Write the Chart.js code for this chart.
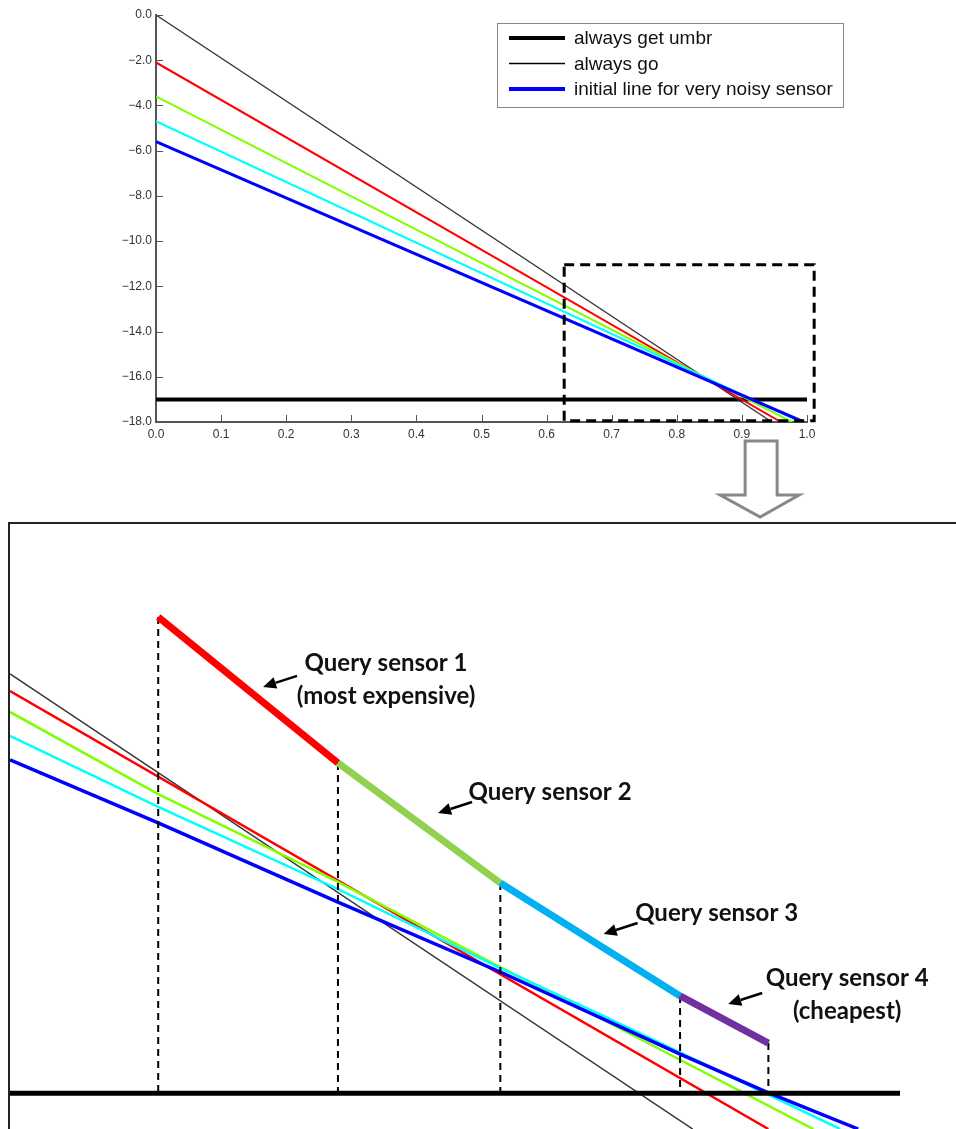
<!DOCTYPE html>
<html>
<head>
<meta charset="utf-8">
<title>Query sensor chart</title>
<script src="https://cdn.jsdelivr.net/npm/chart.js@4.4.0/dist/chart.umd.min.js"></script>
<style>
  html, body { margin: 0; padding: 0; background: #fff; }
  #wrap { position: relative; width: 956px; height: 1129px; overflow: hidden; }
  #topChart { position: absolute; left: 0; top: 0; }
  #zoomChart { position: absolute; left: 0; top: 510px; }
</style>
</head>
<body>
<div id="wrap">
  <canvas id="topChart" width="956" height="520"></canvas>
  <canvas id="zoomChart" width="956" height="619"></canvas>
</div>
<script>
// ===============================================================================================
// top chart data (p on x, expected value on y)

const xTickValues = [0, 0.1, 0.2, 0.3, 0.4, 0.5, 0.6, 0.7, 0.8, 0.9, 1.0];
const yTickValues = [0, -2, -4, -6, -8, -10, -12, -14, -16, -18];

// each line starts at p = 0 and runs down to -18
const lineStartValue = [0.0, -2.1, -3.6, -4.7, -5.6];
const lineEndP = [0.946, 0.96, 0.977, 0.99, 0.995];
const lineFloorValue = -18.0;

const umbrellaValue = -17.0;
const umbrellaP = [0.0, 1.0];

// the dashed window that gets blown up below
const windowP = [0.627, 1.011];
const windowValue = [-11.05, -17.95];

const legendLabels = ['always get umbr', 'always go', 'initial line for very noisy sensor'];

// ===============================================================================================
// zoomed-in view (same kind of units, hand-drawn schematic)

const zoomGoP = [0.84, 0.9266];
const zoomGoValue = [-15.478, -17.13];
const zoomRedP = [0.84, 0.9362];
const zoomRedValue = [-15.54, -17.13];
const zoomGreenP = [0.84, 0.8588, 0.8816, 0.9022, 0.9148, 0.9419];
const zoomGreenValue = [-15.616, -15.914, -16.233, -16.542, -16.727, -17.13];
const zoomCyanP = [0.84, 0.8588, 0.8816, 0.9022, 0.9148, 0.9453];
const zoomCyanValue = [-15.703, -15.961, -16.259, -16.546, -16.713, -17.13];
const zoomBlueP = [0.84, 0.8588, 0.8816, 0.9022, 0.925, 0.936, 0.9476];
const zoomBlueValue = [-15.79, -16.019, -16.306, -16.56, -16.858, -16.996, -17.13];
const zoomUmbrellaP = [0.84, 0.9529];

// upper envelope: which sensor to query in each stretch
const envelopeP = [0.8588, 0.8816, 0.9022, 0.925, 0.9362];
const envelopeValue = [-15.271, -15.801, -16.237, -16.647, -16.818];
const sensorLabels = [['Query sensor 1', '(most expensive)'], ['Query sensor 2'], ['Query sensor 3'], ['Query sensor 4', '(cheapest)']];
const arrowTipP = [0.8721, 0.8943, 0.9153, 0.9311];
const arrowTipValue = [-15.525, -15.983, -16.422, -16.676];

// ===============================================================================================

const lineColors = ['#333333', '#ff0000', '#80ff00', '#00ffff', '#0000ff'];
const sensorColors = ['#ff0000', '#92d050', '#00b0f0', '#7030a0'];

function pts(ps, vs) {
  return ps.map(function (p, i) { return { x: p, y: vs[i] }; });
}

function fmtTick(v) {
  const s = Math.abs(v).toFixed(1);
  return v < -1e-9 ? '\u2212' + s : s;
}

function strokeLine(ctx, x1, y1, x2, y2) {
  ctx.beginPath();
  ctx.moveTo(x1, y1);
  ctx.lineTo(x2, y2);
  ctx.stroke();
}

// ---- top chart -------------------------------------------------------------------------------

const topSets = [];

// dashed window on top of everything
topSets.push({
  data: pts([windowP[0], windowP[1], windowP[1], windowP[0], windowP[0]],
            [windowValue[0], windowValue[0], windowValue[1], windowValue[1], windowValue[0]]),
  borderColor: '#000', borderWidth: 3, borderDash: [10, 6], clip: false
});

const topWidths = [1.3, 2, 2, 2, 3];
for (let i = lineStartValue.length - 1; i >= 0; i--) {
  topSets.push({
    data: pts([0, lineEndP[i]], [lineStartValue[i], lineFloorValue]),
    borderColor: lineColors[i], borderWidth: topWidths[i]
  });
}

topSets.push({
  data: pts(umbrellaP, [umbrellaValue, umbrellaValue]),
  borderColor: '#000', borderWidth: 4
});

const topDecor = {
  id: 'topDecor',
  afterDraw: function (chart) {
    const ctx = chart.ctx;
    const a = chart.chartArea;
    const xs = chart.scales.x;
    const ys = chart.scales.y;
    ctx.save();

    // inward tick marks (matlab style)
    ctx.strokeStyle = '#555';
    ctx.lineWidth = 1;
    xTickValues.forEach(function (v) {
      const px = Math.round(xs.getPixelForValue(v)) + 0.5;
      strokeLine(ctx, px, a.bottom, px, a.bottom - 7);
    });
    yTickValues.forEach(function (v) {
      const py = Math.round(ys.getPixelForValue(v)) + 0.5;
      strokeLine(ctx, a.left, py, a.left + 7, py);
    });

    // legend box
    const lx = 497.5, ly = 23.5, lw = 346, lh = 84;
    ctx.fillStyle = '#fff';
    ctx.fillRect(lx, ly, lw, lh);
    ctx.strokeStyle = '#888';
    ctx.lineWidth = 1;
    ctx.strokeRect(lx, ly, lw, lh);
    const sampleColors = ['#000', '#000', '#0000ff'];
    const sampleWidths = [4, 1.5, 4];
    ctx.font = '19px "Liberation Sans", Arial, sans-serif';
    ctx.textBaseline = 'middle';
    ctx.textAlign = 'left';
    legendLabels.forEach(function (t, i) {
      const y = 38 + i * 25.5;
      ctx.strokeStyle = sampleColors[i];
      ctx.lineWidth = sampleWidths[i];
      strokeLine(ctx, 509, y, 565, y);
      ctx.fillStyle = '#111';
      ctx.fillText(t, 574, y + 1);
    });

    // big grey arrow pointing down to the zoom
    const cx = xs.getPixelForValue(0.928);
    const top = a.bottom + 19;
    ctx.beginPath();
    ctx.moveTo(cx - 15, top);
    ctx.lineTo(cx + 17, top);
    ctx.lineTo(cx + 17, top + 54);
    ctx.lineTo(cx + 39, top + 54);
    ctx.lineTo(cx, top + 76);
    ctx.lineTo(cx - 40, top + 54);
    ctx.lineTo(cx - 15, top + 54);
    ctx.closePath();
    ctx.fillStyle = '#fff';
    ctx.fill();
    ctx.strokeStyle = '#888';
    ctx.lineWidth = 3;
    ctx.stroke();

    ctx.restore();
  }
};

const tickFont = { family: '"Liberation Sans", Arial, sans-serif', size: 12 };

new Chart(document.getElementById('topChart'), {
  type: 'line',
  data: { datasets: topSets },
  options: {
    responsive: false,
    animation: false,
    elements: { point: { radius: 0 }, line: { tension: 0, borderCapStyle: 'butt' } },
    layout: { padding: { top: 15, right: 149, left: 0, bottom: 0 } },
    plugins: { legend: { display: false }, tooltip: { enabled: false } },
    scales: {
      x: {
        type: 'linear', min: 0, max: 1,
        grid: { display: false, drawTicks: false },
        border: { color: '#555', width: 2 },
        afterBuildTicks: function (s) { s.ticks = xTickValues.map(function (v) { return { value: v }; }); },
        ticks: { callback: fmtTick, font: tickFont, color: '#333', padding: 5, maxRotation: 0, autoSkip: false },
        afterFit: function (s) { s.height = 98; }
      },
      y: {
        type: 'linear', min: -18, max: 0,
        grid: { display: false, drawTicks: false },
        border: { color: '#555', width: 2 },
        afterBuildTicks: function (s) { s.ticks = yTickValues.map(function (v) { return { value: v }; }); },
        ticks: { callback: fmtTick, font: tickFont, color: '#333', padding: 4, autoSkip: false },
        afterFit: function (s) { s.width = 156; }
      }
    }
  },
  plugins: [topDecor]
});

// ---- zoomed chart ----------------------------------------------------------------------------

const zoomSets = [];

// envelope, one colour per sensor
zoomSets.push({
  data: pts(envelopeP, envelopeValue),
  borderColor: sensorColors[0], borderWidth: 7,
  segment: { borderColor: function (c) { return sensorColors[c.p0DataIndex]; } }
});

zoomSets.push({
  data: pts(zoomUmbrellaP, [umbrellaValue, umbrellaValue]),
  borderColor: '#000', borderWidth: 5
});

// dashed drops from the envelope down to the umbrella line
const drops = [];
envelopeP.forEach(function (p, i) {
  drops.push({ x: p, y: envelopeValue[i] });
  drops.push({ x: p, y: umbrellaValue });
  drops.push({ x: p, y: null });
});
zoomSets.push({ data: drops, borderColor: '#000', borderWidth: 2, borderDash: [7, 5], spanGaps: false });

zoomSets.push({ data: pts(zoomBlueP, zoomBlueValue), borderColor: lineColors[4], borderWidth: 3.5 });
zoomSets.push({ data: pts(zoomCyanP, zoomCyanValue), borderColor: lineColors[3], borderWidth: 2.5 });
zoomSets.push({ data: pts(zoomGreenP, zoomGreenValue), borderColor: lineColors[2], borderWidth: 2.5 });
zoomSets.push({ data: pts(zoomRedP, zoomRedValue), borderColor: lineColors[1], borderWidth: 2.5 });
zoomSets.push({ data: pts(zoomGoP, zoomGoValue), borderColor: lineColors[0], borderWidth: 1.5 });

// where the text sits relative to the arrow tip (px)
const labelOffsets = [[123, -24], [112, -21], [113, -21], [119, -26]];

const zoomDecor = {
  id: 'zoomDecor',
  afterDraw: function (chart) {
    const ctx = chart.ctx;
    const a = chart.chartArea;
    const xs = chart.scales.x;
    const ys = chart.scales.y;
    ctx.save();

    // frame (only left and top show)
    ctx.strokeStyle = '#222';
    ctx.lineWidth = 2;
    ctx.beginPath();
    ctx.moveTo(a.left - 1, a.bottom + 5);
    ctx.lineTo(a.left - 1, a.top);
    ctx.lineTo(a.right + 5, a.top);
    ctx.stroke();

    ctx.font = 'bold 24px Lato, "Open Sans", sans-serif';
    ctx.textAlign = 'center';
    ctx.textBaseline = 'middle';
    sensorLabels.forEach(function (lines, i) {
      const tx = xs.getPixelForValue(arrowTipP[i]);
      const ty = ys.getPixelForValue(arrowTipValue[i]);
      const sx = tx + 34, sy = ty - 11;
      const ang = Math.atan2(ty - sy, tx - sx);
      const hl = 13, hw = 6;
      const bx = tx - hl * Math.cos(ang), by = ty - hl * Math.sin(ang);

      ctx.strokeStyle = '#000';
      ctx.lineWidth = 2.5;
      strokeLine(ctx, sx, sy, bx, by);
      ctx.fillStyle = '#000';
      ctx.beginPath();
      ctx.moveTo(tx, ty);
      ctx.lineTo(bx + hw * Math.sin(ang), by - hw * Math.cos(ang));
      ctx.lineTo(bx - hw * Math.sin(ang), by + hw * Math.cos(ang));
      ctx.closePath();
      ctx.fill();

      ctx.fillStyle = '#111';
      lines.forEach(function (t, k) {
        ctx.fillText(t, tx + labelOffsets[i][0], ty + labelOffsets[i][1] + k * 33);
      });
    });

    ctx.restore();
  }
};

new Chart(document.getElementById('zoomChart'), {
  type: 'line',
  data: { datasets: zoomSets },
  options: {
    responsive: false,
    animation: false,
    elements: { point: { radius: 0 }, line: { tension: 0, borderCapStyle: 'butt' } },
    layout: { padding: { top: 13, right: 0, left: 10, bottom: 0 } },
    plugins: { legend: { display: false }, tooltip: { enabled: false } },
    scales: {
      x: { type: 'linear', min: 0.84, max: 0.96, display: false },
      y: { type: 'linear', min: -17.13, max: -14.93, display: false }
    }
  },
  plugins: [zoomDecor]
});
</script>
</body>
</html>
